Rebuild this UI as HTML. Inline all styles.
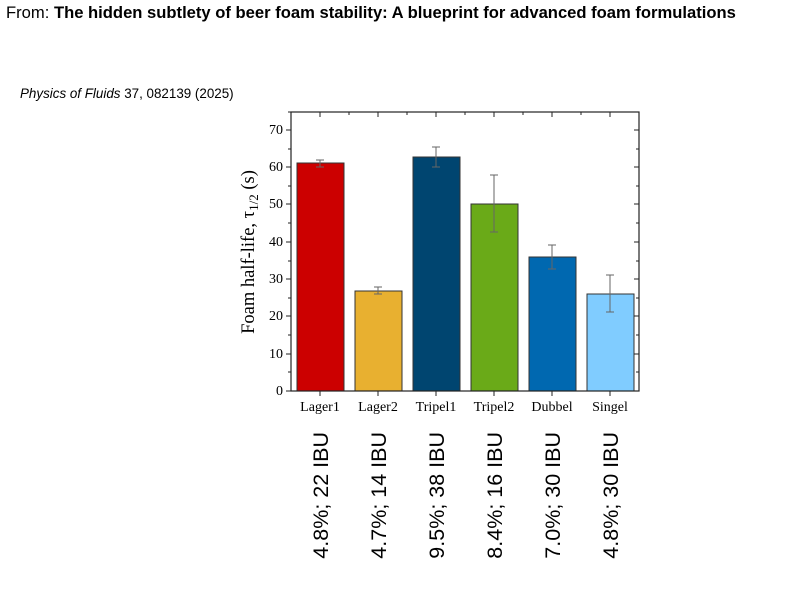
<!DOCTYPE html>
<html><head><meta charset="utf-8"><style>body{margin:0;background:#fff}</style></head><body>
<svg width="807" height="591" xmlns="http://www.w3.org/2000/svg">
<text x="6" y="18" font-family="Liberation Sans, sans-serif" font-size="16.6">From: <tspan font-weight="bold">The hidden subtlety of beer foam stability: A blueprint for advanced foam formulations</tspan></text>
<text x="20" y="98" font-family="Liberation Sans, sans-serif" font-size="13.4"><tspan font-style="italic">Physics of Fluids</tspan> 37, 082139 (2025)</text>
<g stroke="#333" stroke-width="1">
<rect x="297" y="163" width="47" height="228" fill="#cc0000"/>
<rect x="355" y="291" width="47" height="100" fill="#e8b030"/>
<rect x="413" y="157" width="47" height="234" fill="#004570"/>
<rect x="471" y="204" width="47" height="187" fill="#6aaa18"/>
<rect x="529" y="257" width="47" height="134" fill="#0068b0"/>
<rect x="587" y="294" width="47" height="97" fill="#80ccff"/>
</g>
<g stroke="#666" stroke-width="1" fill="none">
<path d="M320,167V160M316,167h8M316,160h8"/>
<path d="M378,294V287M374,294h8M374,287h8"/>
<path d="M436,167V147M432,167h8M432,147h8"/>
<path d="M494,232V175M490,232h8M490,175h8"/>
<path d="M552,269V245M548,269h8M548,245h8"/>
<path d="M610,312V275M606,312h8M606,275h8"/>
</g>
<rect x="291" y="112" width="348" height="279" fill="none" stroke="#222" stroke-width="1.2"/>
<g stroke="#222" stroke-width="1">
<path d="M291,391h-5M291,354h-5M291,316h-5M291,279h-5M291,242h-5M291,204h-5M291,167h-5M291,130h-5"/>
<path d="M291,372h-3M291,335h-3M291,298h-3M291,261h-3M291,223h-3M291,186h-3M291,149h-3M291,112h-3"/>
<path d="M639,391h-5M639,354h-5M639,316h-5M639,279h-5M639,242h-5M639,204h-5M639,167h-5M639,130h-5"/>
<path d="M639,372h-3M639,335h-3M639,298h-3M639,261h-3M639,223h-3M639,186h-3M639,149h-3"/>
<path d="M320,391v5M378,391v5M436,391v5M494,391v5M552,391v5M610,391v5"/>
<path d="M320,112v5M378,112v5M436,112v5M494,112v5M552,112v5M610,112v5"/>
<path d="M349,112v3M407,112v3M465,112v3M523,112v3M581,112v3"/>
</g>
<g font-family="Liberation Serif, serif" font-size="14" text-anchor="end">
<text x="283" y="395">0</text><text x="283" y="358">10</text><text x="283" y="320">20</text><text x="283" y="283">30</text><text x="283" y="246">40</text><text x="283" y="208">50</text><text x="283" y="171">60</text><text x="283" y="134">70</text>
</g>
<g font-family="Liberation Serif, serif" font-size="14" text-anchor="middle">
<text x="320" y="411">Lager1</text><text x="378" y="411">Lager2</text><text x="436" y="411">Tripel1</text><text x="494" y="411">Tripel2</text><text x="552" y="411">Dubbel</text><text x="610" y="411">Singel</text>
</g>
<text transform="translate(254,252) rotate(-90)" font-family="Liberation Serif, serif" font-size="18.5" text-anchor="middle">Foam half-life, τ<tspan font-size="13" dy="4">1/2</tspan><tspan dy="-4"> (s)</tspan></text>
<g font-family="Liberation Sans, sans-serif" font-size="21.5" text-anchor="end">
<text transform="translate(328,432) rotate(-90)">4.8%; 22 IBU</text>
<text transform="translate(386,432) rotate(-90)">4.7%; 14 IBU</text>
<text transform="translate(444,432) rotate(-90)">9.5%; 38 IBU</text>
<text transform="translate(502,432) rotate(-90)">8.4%; 16 IBU</text>
<text transform="translate(560,432) rotate(-90)">7.0%; 30 IBU</text>
<text transform="translate(618,432) rotate(-90)">4.8%; 30 IBU</text>
</g>
</svg>
</body></html>
